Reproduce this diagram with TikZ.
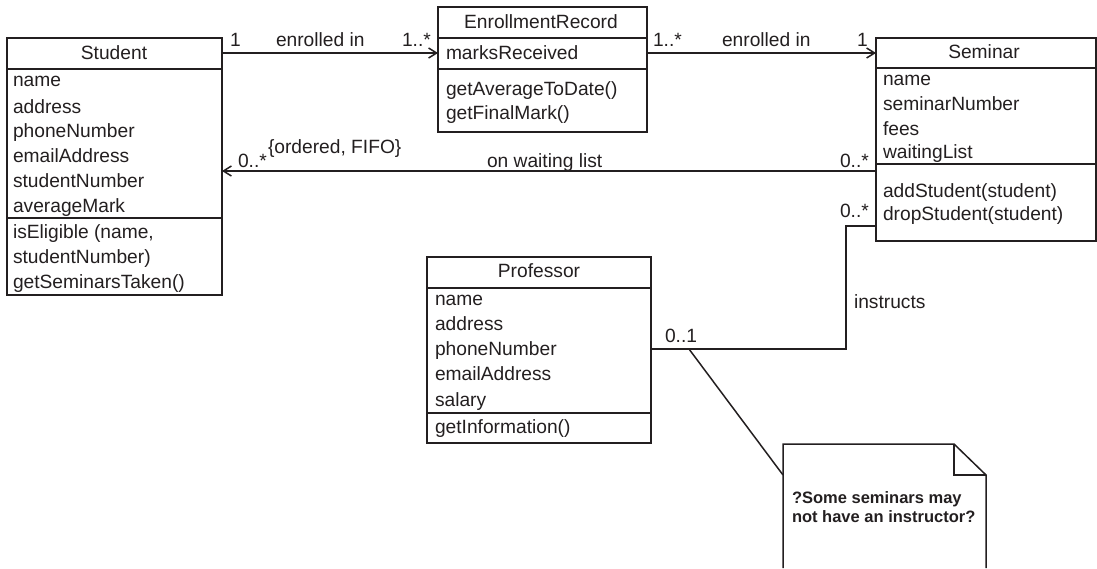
\documentclass[tikz,border=0pt]{standalone}
\usepackage{fontspec}
\setmainfont{Liberation Sans}
\usetikzlibrary{arrows.meta,calc}
\definecolor{ink}{RGB}{35,31,32}
\begin{document}
\begin{tikzpicture}[x=1pt,y=-1pt,
  every node/.style={inner sep=0pt, outer sep=0pt, text=ink},
  classbox/.style={draw=ink, line width=1.6pt, anchor=north west},
  sep/.style={draw=ink, line width=1.6pt},
  tx/.style={anchor=base west, font=\fontsize{19.2}{23}\selectfont},
  ttl/.style={anchor=base, font=\fontsize{19.2}{23}\selectfont},
  conn/.style={draw=ink, line width=1.5pt},
  arr/.style={conn, -{Straight Barb[length=8pt,width=10pt,line width=1.5pt]}},
  notetx/.style={anchor=base west, font=\bfseries\fontsize{16.5}{20}\selectfont},
]
\useasboundingbox (0,0) rectangle (1097,568);

% ---------- Student ----------
\node[classbox, minimum width=215pt, minimum height=257pt] (student) at (7,38) {};
\draw[sep] ([yshift=-31pt]student.north west) -- ([yshift=-31pt]student.north east);
\draw[sep] ([yshift=-180pt]student.north west) -- ([yshift=-180pt]student.north east);
\node[ttl] (stitle) at (114,59) {Student};
\node[tx] (sa1) at (13,86) {name};
\node[tx] (sa2) at (13,113) {address};
\node[tx] (sa3) at (13,137) {phoneNumber};
\node[tx] (sa4) at (13,162) {emailAddress};
\node[tx] (sa5) at (13,187) {studentNumber};
\node[tx] (sa6) at (13,212) {averageMark};
\node[tx] (sm1) at (13,238) {isEligible (name,};
\node[tx] (sm2) at (13,263) {studentNumber)};
\node[tx] (sm3) at (13,288) {getSeminarsTaken()};

% ---------- EnrollmentRecord ----------
\node[classbox, minimum width=209pt, minimum height=125pt] (er) at (438,7) {};
\draw[sep] ([yshift=-31pt]er.north west) -- ([yshift=-31pt]er.north east);
\draw[sep] ([yshift=-62pt]er.north west) -- ([yshift=-62pt]er.north east);
\node[ttl] (ertitle) at (541,28) {EnrollmentRecord};
\node[tx] (era1) at (446,59) {marksReceived};
\node[tx] (erm1) at (446,95) {getAverageToDate()};
\node[tx] (erm2) at (446,119) {getFinalMark()};

% ---------- Seminar ----------
\node[classbox, minimum width=220pt, minimum height=203pt] (seminar) at (876,38) {};
\draw[sep] ([yshift=-30pt]seminar.north west) -- ([yshift=-30pt]seminar.north east);
\draw[sep] ([yshift=-126pt]seminar.north west) -- ([yshift=-126pt]seminar.north east);
\node[ttl] (semtitle) at (984,58) {Seminar};
\node[tx] (sea1) at (883,85) {name};
\node[tx] (sea2) at (883,110) {seminarNumber};
\node[tx] (sea3) at (883,135) {fees};
\node[tx] (sea4) at (883,158) {waitingList};
\node[tx] (sem1) at (883,197) {addStudent(student)};
\node[tx] (sem2) at (883,220) {dropStudent(student)};

% ---------- Professor ----------
\node[classbox, minimum width=224pt, minimum height=186pt] (prof) at (427,257) {};
\draw[sep] ([yshift=-31pt]prof.north west) -- ([yshift=-31pt]prof.north east);
\draw[sep] ([yshift=-156pt]prof.north west) -- ([yshift=-156pt]prof.north east);
\node[ttl] (ptitle) at (539,277) {Professor};
\node[tx] (pa1) at (435,305) {name};
\node[tx] (pa2) at (435,330) {address};
\node[tx] (pa3) at (435,355) {phoneNumber};
\node[tx] (pa4) at (435,380) {emailAddress};
\node[tx] (pa5) at (435,406) {salary};
\node[tx] (pm1) at (435,433) {getInformation()};

% ---------- Note ----------
\node[minimum width=203pt, minimum height=124pt, anchor=north west] (note) at (783,444) {};
\draw[conn] (note.south west) -- (note.north west) -- ([xshift=-32pt]note.north east)
  -- ([yshift=-31pt]note.north east) -- (note.south east);
\draw[conn] ([xshift=-32pt]note.north east) -- ([xshift=-32pt,yshift=-31pt]note.north east)
  -- ([yshift=-31pt]note.north east);
\node[notetx] (nt1) at (792,503) {?Some seminars may};
\node[notetx] (nt2) at (792,522) {not have an instructor?};

% ---------- Connectors ----------
\draw[arr] ([yshift=-15pt]student.north east) -- ([yshift=-46pt]er.north west);
\node[tx] (l1) at (230,46) {1};
\node[tx] (l2) at (276,46) {enrolled in};
\node[tx] (l3) at (402,46) {1..*};

\draw[arr] ([yshift=-46pt]er.north east) -- ([yshift=-15pt]seminar.north west);
\node[tx] (l4) at (653,46) {1..*};
\node[tx] (l5) at (722,46) {enrolled in};
\node[tx] (l6) at (857,46) {1};

\draw[arr] ([yshift=-133pt]seminar.north west) -- ([yshift=-133pt]student.north east);
\node[tx] (l7) at (238,167) {0..*};
\node[tx] (l8) at (268,153) {\{ordered, FIFO\}};
\node[tx] (l9) at (487,167) {on waiting list};
\node[tx] (l10) at (840,167) {0..*};

\draw[conn] ([yshift=-188pt]seminar.north west) -- ++(-30,0) |- ([yshift=-92pt]prof.north east);
\node[tx] (l11) at (840,217) {0..*};
\node[tx] (l12) at (854,308) {instructs};
\node[tx] (l13) at (665,342) {0..1};

\coordinate (np) at (689,349);
\draw[conn] (np) -- ([yshift=-31pt]note.north west);
\end{tikzpicture}
\end{document}
